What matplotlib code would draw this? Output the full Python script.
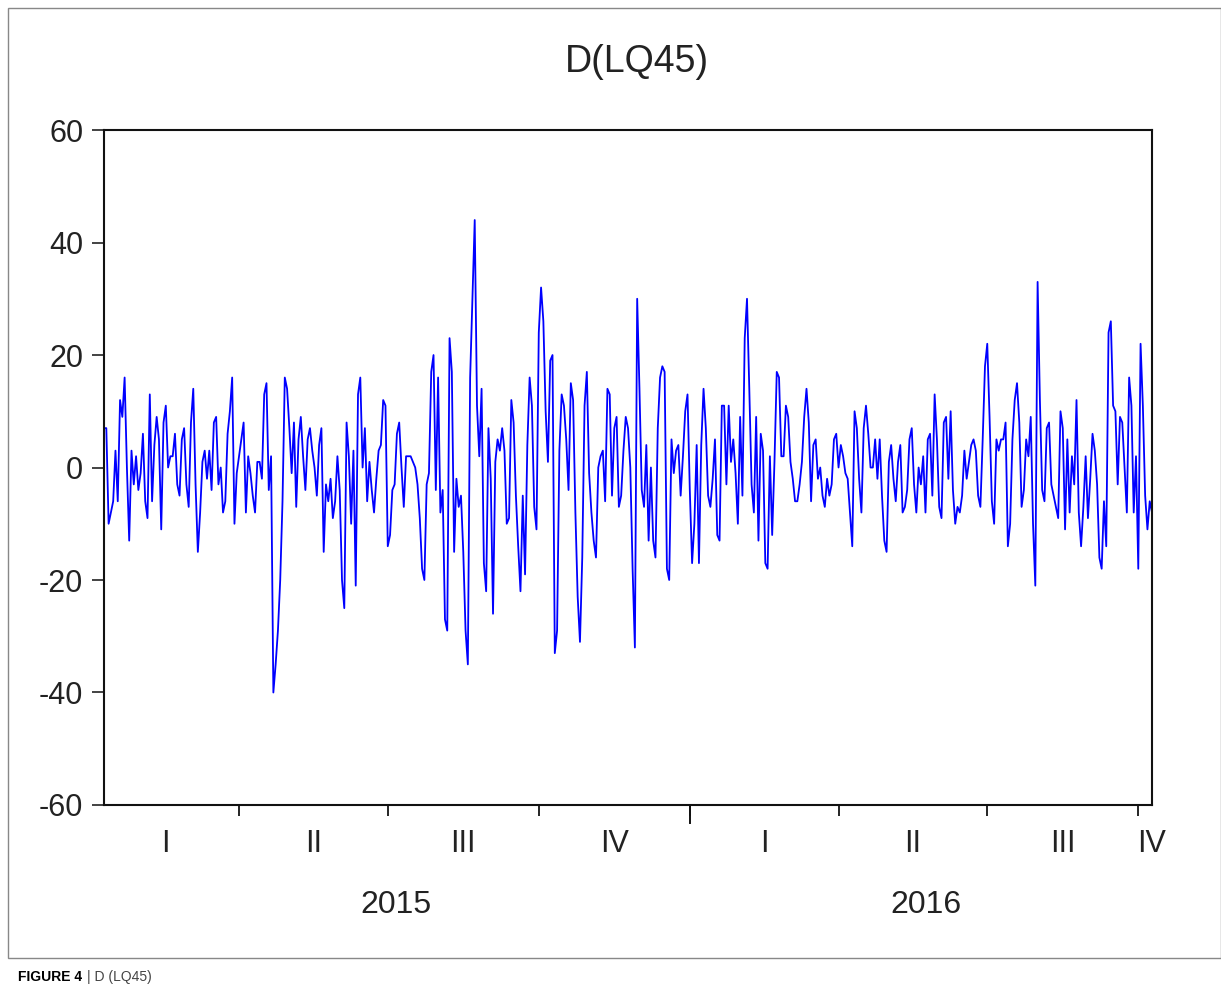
import numpy as np
import pandas as pd
import matplotlib
matplotlib.use("Agg")
import matplotlib.pyplot as plt
from matplotlib.transforms import blended_transform_factory
from matplotlib.patches import Rectangle

# daily first difference of LQ45
seg_a = [7, 7, -10, -8, -6, 3, -6, 12, 9, 16, 0, -13, 3, -3, 2, -4, -1, 6, -6, -9,
         13, -6, 4, 9, 5, -11, 8, 11, 0, 2, 2, 6, -3, -5, 5]
seg_b = [7, -3, -7, 8, 14, -3, -15, -8, 1, 3, -2, 3, -4, 8, 9, -3, 0, -8, -6, 6,
         10, 16, -10, -1, 2, 5, 8, -8, 2, -1, -5, -8, 1, 1, -2, 13, 15]
seg_c = [-4, 2, -40, -35, -29, -20, -6, 16, 14, 7, -1, 8, -7, 5, 9, 2, -4, 5, 7, 3,
         0, -5, 4, 7, -15, -3, -6, -2, -9, -6, 2, -4, -20, -25, 8, 2, -10]
seg_d = [3, -21, 13, 16, 0, 7, -6, 1, -4, -8, -2, 3, 4, 12, 11, -14, -12, -4, -3, 6,
         8, 0, -7, 2, 2, 2, 1, 0, -3, -9, -18, -20, -3, -1, 17, 20, -4, 16]
seg_e = [-8, -4, -27, -29, 23, 17, -15, -2, -7, -5, -15, -29, -35, 16, 30, 44, 11, 2, 14, -17,
         -22, 7, -2, -26, 1, 5, 3, 7, 3, -10, -9, 12, 8, -5, -14, -22]
seg_f = [-5, -19, 4, 16, 11, -7, -11, 24, 32, 26, 10, 1, 19, 20, -33, -29, 3, 13, 11, 5,
         -4, 15, 12, -8, -23, -31, -16, 11, 17, -1, -8, -13, -16, 0, 2, 3, -6, 14]
seg_g = [13, -5, 7, 9, -7, -5, 3, 9, 7, 0, -18, -32, 30, 14, -4, -7, 4, -13, 0, -13,
         -16, 7, 16, 18, 17, -18, -20, 5, -1, 3, 4, -5, 2, 10, 13, -4, -17]
seg_h = [-10, 4, -17, 4, 14, 7, -5, -7, -2, 5, -12, -13, 11, 11, -3, 11, 1, 5, -1, -10,
         9, -5, 23, 30, 14, -3, -8, 9, -13, 6, 3, -17, -18, 2, -12, 1, 17, 16, 2]
seg_i = [2, 11, 9, 1, -2, -6, -6, -3, 1, 9, 14, 8, -6, 4, 5, -2, 0, -5, -7, -2,
         -5, -3, 5, 6, 0, 4, 2, -1, -2, -8, -14, 10, 7, -2, -8, 7, 11, 6, 0]
seg_j = [0, 5, -2, 5, -5, -13, -15, 1, 4, -2, -6, 1, 4, -8, -7, -4, 5, 7, -3, -8,
         0, -3, 2, -8, 5, 6, -5, 13, 5, -7, -9, 8, 9, -2, 10, -4, -10, -7]
seg_k = [-8, -5, 3, -2, 1, 4, 5, 3, -5, -7, 5, 18, 22, 9, -6, -10, 5, 3, 5, 5,
         8, -14, -10, 5, 12, 15, 8, -7, -4, 5, 2, 9, -10, -21]
seg_l = [33, 12, -4, -6, 7, 8, -3, -5, -7, -9, 10, 7, -11, 5, -8, 2, -3, 12, -8, -14,
         -7, 2, -9, -2, 6, 3, -3, -16, -18, -6, -14, 24, 26, 11, 10, -3, 9, 8, 0, -8,
         16, 11, -8, 2, -18, 22, 11, -5, -11, -6, -8]

d_lq45 = (seg_a + seg_b + seg_c + seg_d + seg_e + seg_f + seg_g + seg_h
          + seg_i + seg_j + seg_k + seg_l)

start_date = "2015-01-08"
quarter_starts = ["2015-01-01", "2015-04-01", "2015-07-01", "2015-10-01",
                  "2016-01-01", "2016-04-01", "2016-07-01", "2016-10-01", "2017-01-01"]
quarter_names = ["I", "II", "III", "IV", "I", "II", "III", "IV"]
years = ["2015", "2016"]
year_starts = ["2015-01-01", "2016-01-01", "2017-01-01"]

n = len(d_lq45)
x = np.arange(n)


def obs_index(day):
    # observation number of a calendar day (business days from the start)
    return np.busday_count(np.datetime64(start_date), np.datetime64(day))


plt.rcParams["font.family"] = ["Liberation Sans", "DejaVu Sans"]

fig = plt.figure(figsize=(12.21, 9.98), dpi=100)
ax = fig.add_axes([0.0852, 0.1934, 0.8583, 0.6763])

ax.plot(x, d_lq45, color="#0000ff", lw=1.3)

ax.set_xlim(0, n - 1)
ax.set_ylim(-60, 60)
ax.set_yticks(np.arange(-60, 61, 20))
ax.set_yticklabels([str(v) for v in range(-60, 61, 20)])
ax.tick_params(axis="y", direction="out", length=9, width=1.2, labelsize=22,
               colors="#222222", pad=6)

for s in ax.spines.values():
    s.set_linewidth(1.5)
    s.set_color("#111111")

# quarter boundaries as ticks, year boundary longer
q_idx = [obs_index(d) for d in quarter_starts]
inner = [q for q in q_idx if 0 < q < n - 1]
ax.set_xticks(inner)
ax.set_xticklabels([])
ax.tick_params(axis="x", direction="out", length=8, width=1.2)
tr = blended_transform_factory(ax.transData, ax.transAxes)
y_start = obs_index("2016-01-01")
ax.plot([y_start, y_start], [0, -0.026], transform=tr, color="#111111", lw=1.4,
        clip_on=False)

for k, name in enumerate(quarter_names):
    mid = (q_idx[k] + q_idx[k + 1]) / 2
    mid = min(max(mid, 0), n - 1)
    ax.text(mid, -0.058, name, transform=tr, ha="center", va="center",
            fontsize=22, color="#222222")

for k, yr in enumerate(years):
    a = obs_index(year_starts[k])
    b = min(obs_index(year_starts[k + 1]), n - 1)
    ax.text((a + b) / 2 + 2, -0.148, yr, transform=tr, ha="center", va="center",
            fontsize=23, color="#222222")

fig.text(0.5215, 0.938, "D(LQ45)", ha="center", va="center", fontsize=27,
         color="#222222")

# outer frame and caption
fig.patches.append(Rectangle((8 / 1221, 40 / 998), 1 - 8 / 1221, 950 / 998,
                             transform=fig.transFigure, fill=False,
                             edgecolor="#888888", lw=1.0))
fig.text(18 / 1221, 1 - 977 / 998, "FIGURE 4", ha="left", va="center",
         fontsize=10, fontweight="bold")
fig.text(87 / 1221, 1 - 977 / 998, "| D (LQ45)", ha="left", va="center",
         fontsize=10, color="#444444")

fig.savefig("out.png", dpi=100)
